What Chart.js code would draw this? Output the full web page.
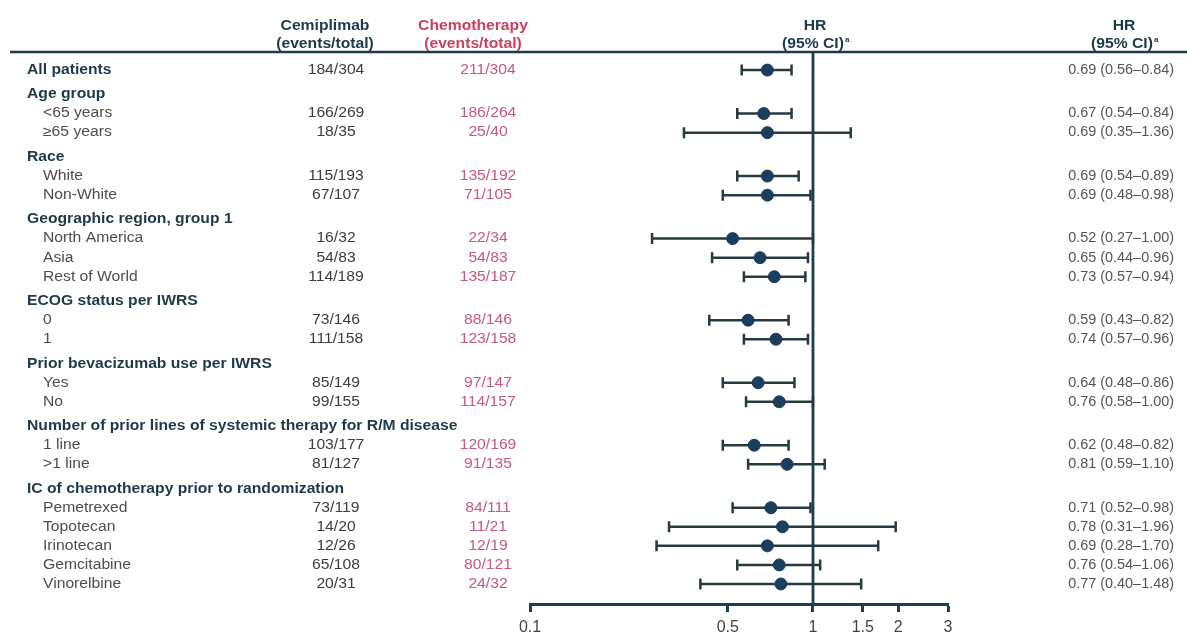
<!DOCTYPE html>
<html>
<head>
<meta charset="utf-8">
<title>Overall survival by subgroup – forest plot</title>
<script src="https://cdn.jsdelivr.net/npm/chart.js@4/dist/chart.umd.min.js"></script>
<style>
  html, body { margin: 0; padding: 0; background: #ffffff; }
  #wrap { width: 1187px; height: 635px; position: relative; }
</style>
</head>
<body>
<div id="wrap"><canvas id="forest" width="1187" height="635"></canvas></div>
<script>
// ---- data ----
const rowLabels = [
  'All patients',
  'Age group', '<65 years', '\u226565 years',
  'Race', 'White', 'Non-White',
  'Geographic region, group 1', 'North America', 'Asia', 'Rest of World',
  'ECOG status per IWRS', '0', '1',
  'Prior bevacizumab use per IWRS', 'Yes', 'No',
  'Number of prior lines of systemic therapy for R/M disease', '1 line', '>1 line',
  'IC of chemotherapy prior to randomization', 'Pemetrexed', 'Topotecan', 'Irinotecan', 'Gemcitabine', 'Vinorelbine'
];
// 0 = group heading (bold), 1 = subgroup
const rowLevel = [0, 0,1,1, 0,1,1, 0,1,1,1, 0,1,1, 0,1,1, 0,1,1, 0,1,1,1,1,1];

const cemiplimabEvents = [
  '184/304',
  '', '166/269', '18/35',
  '', '115/193', '67/107',
  '', '16/32', '54/83', '114/189',
  '', '73/146', '111/158',
  '', '85/149', '99/155',
  '', '103/177', '81/127',
  '', '73/119', '14/20', '12/26', '65/108', '20/31'
];
const chemotherapyEvents = [
  '211/304',
  '', '186/264', '25/40',
  '', '135/192', '71/105',
  '', '22/34', '54/83', '135/187',
  '', '88/146', '123/158',
  '', '97/147', '114/157',
  '', '120/169', '91/135',
  '', '84/111', '11/21', '12/19', '80/121', '24/32'
];
const hazardRatio = [
  0.69,
  null, 0.67, 0.69,
  null, 0.69, 0.69,
  null, 0.52, 0.65, 0.73,
  null, 0.59, 0.74,
  null, 0.64, 0.76,
  null, 0.62, 0.81,
  null, 0.71, 0.78, 0.69, 0.76, 0.77
];
const ciLower = [
  0.56,
  null, 0.54, 0.35,
  null, 0.54, 0.48,
  null, 0.27, 0.44, 0.57,
  null, 0.43, 0.57,
  null, 0.48, 0.58,
  null, 0.48, 0.59,
  null, 0.52, 0.31, 0.28, 0.54, 0.40
];
const ciUpper = [
  0.84,
  null, 0.84, 1.36,
  null, 0.89, 0.98,
  null, 1.00, 0.96, 0.94,
  null, 0.82, 0.96,
  null, 0.86, 1.00,
  null, 0.82, 1.10,
  null, 0.98, 1.96, 1.70, 1.06, 1.48
];
const xTicks = [0.1, 0.5, 1, 1.5, 2, 3];

// ---- layout / style ----
const FONT = "'Liberation Sans', Arial, Helvetica, sans-serif";
const STRETCH = 1.12;          // table text is set slightly wide
const HR_STRETCH = 1.03;
const HEADING_GAP = 0.28;      // extra space (in rows) above each group heading
const C_HEADING = '#1d3a48';
const C_SUB = '#4d4d4d';
const C_CEMI = '#3d3d3d';
const C_CHEMO = '#c65a78';
const C_CHEMO_HEAD = '#c9425f';
const C_HR = '#555555';
const C_LINE = '#1b4150';
const C_CI = '#263a3f';
const C_POINT = '#1a3e5c';

// vertical position of each row in row units (headings get a little extra room)
const rowY = [];
(function () {
  let gaps = 0;
  rowLabels.forEach((_, i) => {
    if (i > 0 && rowLevel[i] === 0) gaps += HEADING_GAP;
    rowY.push(i + gaps);
  });
})();
const yMin = -0.95;
const yMax = rowY[rowY.length - 1] + 1.05;

const points = [];
hazardRatio.forEach((v, i) => { if (v !== null) points.push({ x: v, y: rowY[i], row: i }); });

function fmt(v) { return v.toFixed(2); }

function drawText(ctx, text, x, y, font, color, align, stretch) {
  ctx.save();
  ctx.font = font;
  ctx.fillStyle = color;
  ctx.textBaseline = 'middle';
  ctx.textAlign = align;
  ctx.translate(x, y);
  ctx.scale(stretch === undefined ? STRETCH : stretch, 1);
  ctx.fillText(text, 0, 0);
  ctx.restore();
}

function drawCiHeader(ctx, cx, top) {
  const f = 'bold 14px ' + FONT;
  drawText(ctx, 'HR', cx, top - 26, f, C_HEADING, 'center');
  ctx.save();
  ctx.font = f;
  const w = ctx.measureText('(95% CI)').width * STRETCH;
  ctx.restore();
  drawText(ctx, '(95% CI)', cx - 2, top - 8, f, C_HEADING, 'center');
  drawText(ctx, 'a', cx - 2 + w / 2 + 1, top - 12, 'bold 8px ' + FONT, C_HEADING, 'left', 1);
}

const forestPlugin = {
  id: 'forestTable',
  beforeDatasetsDraw(chart) {
    const { ctx, chartArea, scales } = chart;
    const x = scales.x, y = scales.y;
    const top = chartArea.top;

    // header rule across the table
    ctx.save();
    ctx.strokeStyle = '#1f3c44';
    ctx.lineWidth = 2.5;
    ctx.beginPath();
    ctx.moveTo(10, top);
    ctx.lineTo(chart.width, top);
    ctx.stroke();

    // line of no effect at HR = 1
    const x1 = x.getPixelForValue(1);
    ctx.strokeStyle = C_LINE;
    ctx.lineWidth = 2.8;
    ctx.beginPath();
    ctx.moveTo(x1, top);
    ctx.lineTo(x1, chartArea.bottom);
    ctx.stroke();

    // confidence intervals with end caps
    ctx.strokeStyle = C_CI;
    ctx.lineWidth = 2.5;
    hazardRatio.forEach((v, i) => {
      if (v === null) return;
      const py = y.getPixelForValue(rowY[i]);
      const xl = x.getPixelForValue(ciLower[i]);
      const xh = x.getPixelForValue(ciUpper[i]);
      ctx.beginPath();
      ctx.moveTo(xl, py); ctx.lineTo(xh, py);
      ctx.moveTo(xl, py - 5.5); ctx.lineTo(xl, py + 5.5);
      ctx.moveTo(xh, py - 5.5); ctx.lineTo(xh, py + 5.5);
      ctx.stroke();
    });
    ctx.restore();

    // column headers
    const hb = 'bold 14px ' + FONT;
    drawText(ctx, 'Cemiplimab', 325, top - 26, hb, C_HEADING, 'center');
    drawText(ctx, '(events/total)', 325, top - 8, hb, C_HEADING, 'center');
    drawText(ctx, 'Chemotherapy', 473, top - 26, hb, C_CHEMO_HEAD, 'center');
    drawText(ctx, '(events/total)', 473, top - 8, hb, C_CHEMO_HEAD, 'center');
    drawCiHeader(ctx, x1 + 2, top);
    drawCiHeader(ctx, 1124, top);

    // table rows
    const fr = '14px ' + FONT;
    rowLabels.forEach((label, i) => {
      const py = y.getPixelForValue(rowY[i]);
      if (rowLevel[i] === 0) drawText(ctx, label, 27, py, hb, C_HEADING, 'left');
      else drawText(ctx, label, 43, py, fr, C_SUB, 'left');
      if (cemiplimabEvents[i]) drawText(ctx, cemiplimabEvents[i], 336, py, fr, C_CEMI, 'center');
      if (chemotherapyEvents[i]) drawText(ctx, chemotherapyEvents[i], 488, py, fr, C_CHEMO, 'center');
      if (hazardRatio[i] !== null) {
        const txt = fmt(hazardRatio[i]) + ' (' + fmt(ciLower[i]) + '\u2013' + fmt(ciUpper[i]) + ')';
        drawText(ctx, txt, 1174, py, fr, C_HR, 'right', HR_STRETCH);
      }
    });
  }
};

new Chart(document.getElementById('forest'), {
  type: 'scatter',
  data: {
    datasets: [{
      data: points,
      pointRadius: 6,
      pointHoverRadius: 6,
      pointBackgroundColor: C_POINT,
      pointBorderColor: C_POINT,
      pointBorderWidth: 1
    }]
  },
  options: {
    responsive: false,
    devicePixelRatio: 1,
    animation: false,
    events: [],
    layout: { padding: { left: 530, right: 239, top: 52, bottom: -9 } },
    plugins: { legend: { display: false }, tooltip: { enabled: false } },
    scales: {
      x: {
        type: 'logarithmic',
        min: 0.1,
        max: 3,
        afterBuildTicks(scale) { scale.ticks = xTicks.map(v => ({ value: v })); },
        ticks: {
          autoSkip: false,
          maxRotation: 0,
          padding: 8,
          color: '#444444',
          font: { family: FONT, size: 16, lineHeight: 1 },
          callback: v => String(v)
        },
        grid: {
          display: true,
          drawOnChartArea: false,
          drawTicks: true,
          tickLength: 8,
          tickWidth: 3,
          tickColor: C_LINE
        },
        border: { display: true, width: 3, color: C_LINE }
      },
      y: {
        type: 'linear',
        reverse: true,
        min: yMin,
        max: yMax,
        display: false
      }
    }
  },
  plugins: [forestPlugin]
});
</script>
</body>
</html>
